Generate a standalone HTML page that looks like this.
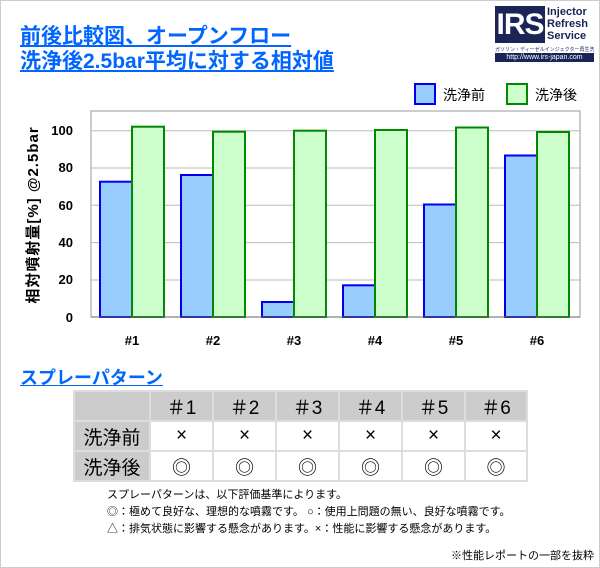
<!DOCTYPE html>
<html><head><meta charset="utf-8"><style>
body{margin:0;width:600px;height:568px;background:#fff;font-family:"Liberation Sans","Noto Sans CJK JP",sans-serif;position:relative;overflow:hidden}
.frame{position:absolute;left:0;top:0;width:598px;height:566px;border:1px solid #ccc}
.t{position:absolute;color:#0066ff;font-weight:bold;text-decoration:underline;font-size:21px;line-height:24px;left:20px;white-space:nowrap}
table{position:absolute;left:73px;top:390px;border-collapse:separate;border-spacing:2px;background:#ddd}
td{height:28px;text-align:center;font-size:19px;padding:0;background:#fff}
.h{background:#ccc}
.n{font-size:11px;position:absolute;left:107px;line-height:16px;color:#000;white-space:nowrap}
</style></head><body>
<div class="frame"></div>
<div class="t" style="top:25px">前後比較図、オープンフロー</div>
<div class="t" style="top:50px">洗浄後2.5bar平均に対する相対値</div>
<div style="position:absolute;left:495px;top:6px;width:100px;height:54px">
 <div style="position:absolute;left:0;top:0;width:50px;height:37px;background:#1a2456;color:#fff;font:bold 30px/37px 'Liberation Sans',sans-serif;text-align:center;letter-spacing:-1px">IRS</div>
 <div style="position:absolute;left:52px;top:0;font:bold 11px/12px 'Liberation Sans',sans-serif;color:#1a2456">Injector<br>Refresh<br>Service</div>
 <div style="position:absolute;left:0;top:40px;font-size:5px;color:#1a2456;white-space:nowrap;overflow:hidden;width:99px">ガソリン・ディーゼルインジェクター再生洗浄サービス</div>
 <div style="position:absolute;left:0;top:47px;width:99px;height:9px;background:#1a2456;color:#fff;font-size:7px;line-height:9px;text-align:center">http://www.irs-japan.com</div>
</div>
<svg width="600" height="360" style="position:absolute;left:0;top:0">
 <rect x="415" y="84" width="20" height="20" fill="#99ccff" stroke="#0000ee" stroke-width="2"/>
 <text x="443" y="100" font-size="14" font-family="Liberation Sans,Noto Sans CJK JP,sans-serif">洗浄前</text>
 <rect x="507" y="84" width="20" height="20" fill="#ccffcc" stroke="#008800" stroke-width="2"/>
 <text x="535" y="100" font-size="14" font-family="Liberation Sans,Noto Sans CJK JP,sans-serif">洗浄後</text>
 <rect x="91" y="111" width="489" height="206" fill="#fff" stroke="#999"/>
 <g stroke="#bbb">
  <line x1="91" y1="130.7" x2="580" y2="130.7"/><line x1="91" y1="168" x2="580" y2="168"/>
  <line x1="91" y1="205.3" x2="580" y2="205.3"/><line x1="91" y1="242.6" x2="580" y2="242.6"/>
  <line x1="91" y1="280" x2="580" y2="280"/>
 </g>
 <g font-family="Liberation Sans,sans-serif" font-weight="bold" font-size="13" text-anchor="end">
  <text x="73" y="135">100</text><text x="73" y="172">80</text><text x="73" y="210">60</text>
  <text x="73" y="247">40</text><text x="73" y="284">20</text><text x="73" y="322">0</text>
 </g>
 <text transform="translate(38,215) rotate(-90)" font-size="15" font-weight="bold" text-anchor="middle" font-family="Liberation Sans,Noto Sans CJK JP,sans-serif" letter-spacing="1">相対噴射量[%] @2.5bar</text>
 <g stroke-width="2">
  <g fill="#99ccff" stroke="#0000ee">
   <rect x="100" y="181.7" width="32" height="135.3"/>
   <rect x="181" y="175" width="32" height="142"/>
   <rect x="262" y="302" width="32" height="15"/>
   <rect x="343" y="285.3" width="32" height="31.7"/>
   <rect x="424" y="204.5" width="32" height="112.5"/>
   <rect x="505" y="155.5" width="32" height="161.5"/>
  </g>
  <g fill="#ccffcc" stroke="#008800">
   <rect x="132" y="126.7" width="32" height="190.3"/>
   <rect x="213" y="131.7" width="32" height="185.3"/>
   <rect x="294" y="130.7" width="32" height="186.3"/>
   <rect x="375" y="130" width="32" height="187"/>
   <rect x="456" y="127.5" width="32" height="189.5"/>
   <rect x="537" y="132" width="32" height="185"/>
  </g>
 </g>
 <line x1="91" y1="317" x2="580" y2="317" stroke="#666"/>
 <g font-family="Liberation Sans,sans-serif" font-weight="bold" font-size="13" text-anchor="middle">
  <text x="132" y="345">#1</text><text x="213" y="345">#2</text><text x="294" y="345">#3</text>
  <text x="375" y="345">#4</text><text x="456" y="345">#5</text><text x="537" y="345">#6</text>
 </g>
</svg>
<div class="t" style="top:366px;font-size:18px">スプレーパターン</div>
<table>
<tr><td class="h" style="width:74px"></td><td class="h" style="width:61px">＃1</td><td class="h" style="width:61px">＃2</td><td class="h" style="width:61px">＃3</td><td class="h" style="width:61px">＃4</td><td class="h" style="width:61px">＃5</td><td class="h" style="width:60px">＃6</td></tr>
<tr><td class="h">洗浄前</td><td>×</td><td>×</td><td>×</td><td>×</td><td>×</td><td>×</td></tr>
<tr><td class="h">洗浄後</td><td>◎</td><td>◎</td><td>◎</td><td>◎</td><td>◎</td><td>◎</td></tr>
</table>
<div class="n" style="top:487px">スプレーパターンは、以下評価基準によります。</div>
<div class="n" style="top:504px">◎：極めて良好な、理想的な噴霧です。 ○：使用上問題の無い、良好な噴霧です。</div>
<div class="n" style="top:521px">△：排気状態に影響する懸念があります。×：性能に影響する懸念があります。</div>
<div class="n" style="top:548px;left:auto;right:6px">※性能レポートの一部を抜粋</div>
</body></html>
